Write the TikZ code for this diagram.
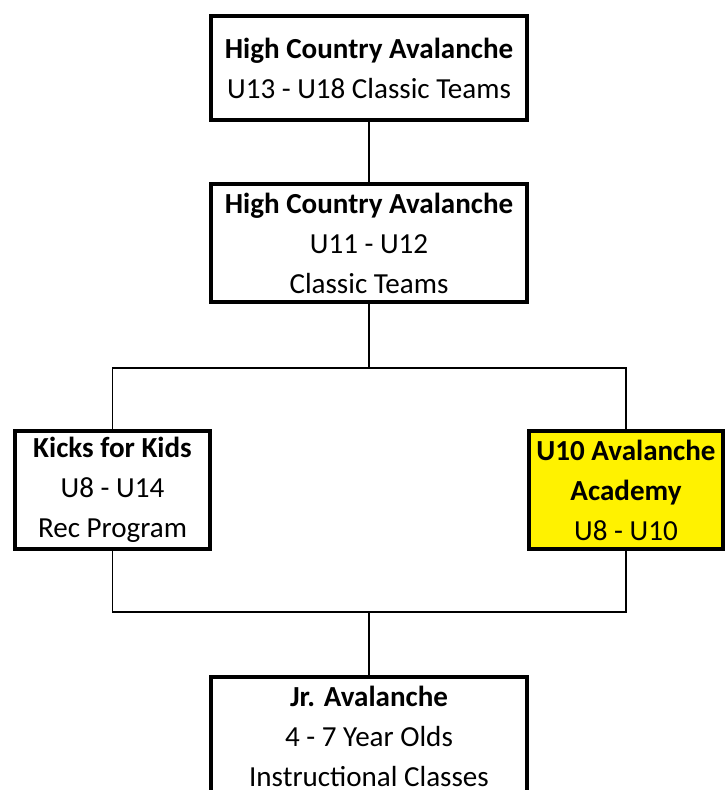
\documentclass[tikz,border=0pt]{standalone}
\usepackage{fontspec}
\setmainfont{Carlito}
\usepackage{tikz}

\begin{document}
\begin{tikzpicture}
[x=0.75pt,y=-0.75pt,
every node/.style={rectangle,draw,line width=3pt,inner sep=0pt,align=center,
  font=\fontsize{21.8}{30}\selectfont},
wide/.style={minimum width=237pt},
narrow/.style={minimum width=146pt},
link/.style={line width=0.9pt}]
\clip (0,0) rectangle (727,790);
\node[wide,minimum height=78pt] (hca) at (369,68){\textbf{High Country Avalanche}\\U13 - U18 Classic Teams};
\node[wide,minimum height=89pt] (hcb) at (369,243){\textbf{High Country Avalanche}\\U11 - U12\\Classic Teams};
\node[narrow,minimum height=89pt] (kids) at (112.5,490){\textbf{Kicks for Kids}\\U8 - U14\\Rec Program};
\node[narrow,minimum height=89pt,fill=yellow] (acad) at (626,490){\textbf{U10 Avalanche}\\\textbf{Academy}\\U8 - U10};
\node[wide,minimum height=89pt] (jr) at (369,736){\textbf{Jr. Avalanche}\\4 - 7 Year Olds\\Instructional Classes};
\coordinate (split) at (369,368);
\coordinate (merge) at (369,612);
\draw[link] (hca)--(hcb);
\draw[link] (hcb)--(split);
\draw[link] (kids.north)|-(split)-|(acad.north);
\draw[link] (kids.south)|-(merge)-|(acad.south);
\draw[link] (merge)--(jr);
\end{tikzpicture}
\end{document}
